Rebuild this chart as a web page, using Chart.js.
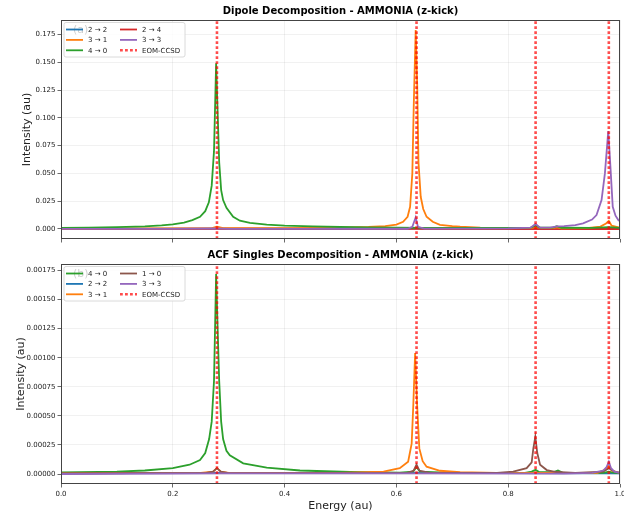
<!DOCTYPE html>
<html lang="en">
<head>
<meta charset="UTF-8">
<title>AMMONIA (z-kick) decompositions</title>
<script src="https://cdn.jsdelivr.net/npm/chart.js@4.4.1/dist/chart.umd.min.js"></script>
<style>
  body { margin: 0; background: #fff; }
  canvas { position: absolute; left: 0; }
  #dip { top: 0; }
  #acf { top: 250px; }
</style>
</head>
<body>
<canvas id="dip" width="624" height="250"></canvas>
<canvas id="acf" width="624" height="267"></canvas>
<script>
// EOM-CCSD excitation energies (au)
const eomEnergies = [0.279, 0.636, 0.849, 0.980];

const xTicks = [0, 0.2, 0.4, 0.6, 0.8, 1.0];
const dipYTicks = [0, 0.025, 0.05, 0.075, 0.1, 0.125, 0.15, 0.175];
const acfYTicks = [0, 0.00025, 0.0005, 0.00075, 0.001, 0.00125, 0.0015, 0.00175];
const dipYRange = [-0.009, 0.188];
const acfYRange = [-0.000086, 0.001806];

// (a) dipole decomposition, [energy, intensity]
const dip22 = [[0, 0.0001], [0.279, 0.0004], [0.5, 0.0001], [0.636, 0.0004], [1, 0.0001]];
const dip31 = [[0, 0.0004], [0.2, 0.0005], [0.27, 0.0008], [0.279, 0.002], [0.29, 0.0008], [0.4, 0.0008], [0.5, 0.0012],
  [0.55, 0.0018], [0.58, 0.0026], [0.6, 0.004], [0.612, 0.0065], [0.62, 0.011], [0.6245, 0.02], [0.6285, 0.05],
  [0.631, 0.11], [0.6345, 0.179], [0.6372, 0.13], [0.6395, 0.06], [0.6435, 0.029], [0.648, 0.018], [0.654, 0.011],
  [0.665, 0.0065], [0.678, 0.0038], [0.7, 0.0025], [0.714, 0.002], [0.75, 0.0013], [0.8, 0.001], [0.84, 0.0009],
  [0.849, 0.0016], [0.86, 0.0007], [0.88, 0.0008], [0.887, 0.0015], [0.895, 0.0006], [0.94, 0.0008], [0.965, 0.0022],
  [0.975, 0.005], [0.98, 0.0072], [0.985, 0.003], [1, 0.0012]];
const dip40 = [[0, 0.001], [0.05, 0.0012], [0.1, 0.0016], [0.15, 0.0024], [0.18, 0.0033], [0.2, 0.0042], [0.22, 0.0058],
  [0.235, 0.008], [0.2487, 0.011], [0.258, 0.016], [0.2645, 0.024], [0.2696, 0.039], [0.2737, 0.07], [0.2775, 0.149],
  [0.2805, 0.1], [0.283, 0.06], [0.2865, 0.035], [0.29, 0.026], [0.296, 0.019], [0.308, 0.011], [0.32, 0.0075],
  [0.338, 0.0055], [0.368, 0.004], [0.4, 0.0031], [0.45, 0.0023], [0.5, 0.0018], [0.55, 0.0014], [0.6, 0.0012],
  [0.65, 0.001], [0.7, 0.0009], [0.8, 0.0009], [0.84, 0.0012], [0.849, 0.003], [0.857, 0.0012], [0.88, 0.0012],
  [0.887, 0.0026], [0.895, 0.0011], [0.95, 0.001], [0.98, 0.0016], [1, 0.001]];
const dip24 = [[0, 0], [0.279, 0.0002], [0.636, 0.0002], [1, 0]];
const dip33 = [[0, 0.0001], [0.2, 0.0001], [0.279, 0.0006], [0.3, 0.0001], [0.62, 0.0002], [0.6285, 0.002],
  [0.6345, 0.0105], [0.6385, 0.002], [0.65, 0.0003], [0.8, 0.0005], [0.84, 0.0012], [0.849, 0.0045], [0.857, 0.0012],
  [0.875, 0.0012], [0.887, 0.0024], [0.9, 0.0025], [0.92, 0.0035], [0.934, 0.005], [0.95, 0.0085], [0.958, 0.0125],
  [0.967, 0.026], [0.973, 0.05], [0.979, 0.088], [0.983, 0.055], [0.987, 0.02], [0.992, 0.012], [0.997, 0.008], [1, 0.007]];

// (b) ACF singles decomposition
const acf40 = [[0, 0.000013], [0.1, 0.00002], [0.15, 0.00003], [0.2, 0.00005], [0.23, 0.00008], [0.2487, 0.00012],
  [0.258, 0.00018], [0.265, 0.0003], [0.2696, 0.00045], [0.2737, 0.0008], [0.2775, 0.00172], [0.2805, 0.0012],
  [0.283, 0.0008], [0.2865, 0.00045], [0.29, 0.0003], [0.296, 0.0002], [0.302, 0.00016], [0.326, 0.000092],
  [0.368, 0.000054], [0.4275, 0.00003], [0.517, 0.000017], [0.606, 0.000012], [0.63, 0.00002], [0.636, 0.00006],
  [0.642, 0.00002], [0.7, 0.00001], [0.83, 0.00001], [0.842, 0.00002], [0.849, 0.000036], [0.856, 0.000015],
  [0.88, 0.000015], [0.889, 0.00003], [0.897, 0.000012], [0.97, 0.00001], [0.98, 0.00002], [0.99, 0.00001], [1, 0.00001]];
const acf22 = [[0, 0.000005], [0.279, 0.00001], [0.636, 0.00001], [1, 0.000005]];
const acf31 = [[0, 0.000005], [0.25, 0.00001], [0.272, 0.00002], [0.279, 0.00005], [0.286, 0.00002], [0.3, 0.00001],
  [0.5, 0.00001], [0.577, 0.00002], [0.606, 0.00005], [0.621, 0.000106], [0.6273, 0.00026], [0.6303, 0.0006],
  [0.6335, 0.00104], [0.637, 0.0006], [0.641, 0.00022], [0.647, 0.00011], [0.654, 0.000063], [0.678, 0.000028],
  [0.714, 0.000015], [0.8, 0.000008], [0.849, 0.00001], [0.96, 0.00001], [0.975, 0.00004], [0.98, 0.00007],
  [0.985, 0.00003], [1, 0.00001]];
const acf10 = [[0, 0.000005], [0.26, 0.00001], [0.272, 0.00002], [0.279, 0.00005], [0.286, 0.00002], [0.3, 0.000008],
  [0.62, 0.00001], [0.631, 0.00003], [0.636, 0.00008], [0.641, 0.00003], [0.66, 0.00001], [0.78, 0.00001],
  [0.809, 0.00002], [0.833, 0.00005], [0.842, 0.0001], [0.845, 0.00022], [0.8485, 0.00032], [0.852, 0.00018],
  [0.857, 0.00008], [0.869, 0.000034], [0.886, 0.000017], [0.92, 0.00001], [0.97, 0.00002], [0.98, 0.00005],
  [0.99, 0.00002], [1, 0.00001]];
const acf33 = [[0, 0], [0.279, 0.000005], [0.636, 0.000005], [0.9, 0.000003], [0.95, 0.00001], [0.97, 0.00003],
  [0.976, 0.00006], [0.98, 0.000106], [0.984, 0.00005], [0.99, 0.00002], [1, 0.00001]];

const C = { blue: '#1f77b4', orange: '#ff7f0e', green: '#2ca02c', red: '#d62728', purple: '#9467bd', brown: '#8c564b' };
const eomColor = 'rgba(255,0,0,0.7)';

Chart.defaults.font.family = '"DejaVu Sans", sans-serif';
Chart.defaults.color = '#222';

function series(label, pts, color, order) {
  return { label, data: pts.map(p => ({ x: p[0], y: p[1] })), borderColor: color, backgroundColor: color,
    borderWidth: 1.8, pointRadius: 0, tension: 0, order };
}
function eomLines(range) {
  return eomEnergies.map(e => ({ label: 'EOM-CCSD', data: [{ x: e, y: range[0] }, { x: e, y: range[1] }],
    borderColor: eomColor, borderWidth: 2.6, borderDash: [2.8, 2.2], pointRadius: 0, order: 0 }));
}

// frame, title, letter and a matplotlib-like two column legend
const panelDeco = {
  id: 'panelDeco',
  afterDraw(chart, args, o) {
    const { ctx, chartArea: a } = chart;
    ctx.save();
    ctx.strokeStyle = '#444';
    ctx.lineWidth = 1;
    ctx.strokeRect(a.left + 0.5, a.top + 0.5, a.right - a.left - 1, a.bottom - a.top - 1);

    ctx.fillStyle = '#000';
    ctx.font = 'bold 10px "DejaVu Sans"';
    ctx.textAlign = 'center';
    ctx.textBaseline = 'middle';
    ctx.fillText(o.title, (a.left + a.right) / 2, a.top - 9);

    ctx.font = '11px "DejaVu Sans"';
    ctx.textAlign = 'left';
    ctx.fillText(o.letter, a.left + 12, a.top + 10);

    const bx = a.left + 3, by = a.top + 2.5, bw = 121, bh = 34.5;
    ctx.beginPath();
    ctx.roundRect(bx, by, bw, bh, 2);
    ctx.fillStyle = 'rgba(255,255,255,0.8)';
    ctx.fill();
    ctx.strokeStyle = '#d0d0d0';
    ctx.lineWidth = 0.8;
    ctx.stroke();

    ctx.font = '7px "DejaVu Sans"';
    o.items.forEach((it, i) => {
      const hx = a.left + 5 + Math.floor(i / 3) * 54;
      const hy = a.top + 9.5 + (i % 3) * 10.4;
      ctx.beginPath();
      ctx.moveTo(hx, hy);
      ctx.lineTo(hx + 17, hy);
      ctx.strokeStyle = it.color;
      ctx.lineWidth = it.dotted ? 2.6 : 1.8;
      ctx.setLineDash(it.dotted ? [2.8, 2.2] : []);
      ctx.stroke();
      ctx.setLineDash([]);
      ctx.fillStyle = '#222';
      ctx.fillText(it.label, hx + 22, hy + 0.5);
    });
    ctx.restore();
  }
};

function makeChart(id, datasets, o) {
  return new Chart(document.getElementById(id), {
    type: 'line',
    data: { datasets },
    plugins: [panelDeco],
    options: {
      responsive: false,
      animation: false,
      layout: { padding: { top: o.padTop, right: 4, left: 0, bottom: 0 } },
      plugins: { legend: { display: false }, tooltip: { enabled: false }, panelDeco: o.deco },
      scales: {
        x: {
          type: 'linear', min: 0, max: 1,
          afterBuildTicks: s => { s.ticks = xTicks.map(v => ({ value: v })); },
          afterFit: s => { s.height = o.xHeight; s.paddingLeft = 0; s.paddingRight = 0; },
          grid: { color: 'rgba(0,0,0,0.07)', lineWidth: 0.8, tickColor: '#444', tickLength: 3.5, tickWidth: 0.8 },
          border: { display: false },
          ticks: { display: o.xLabels, font: { size: 7 }, padding: 2, maxRotation: 0, callback: v => v.toFixed(1) },
          title: { display: o.xLabels, text: 'Energy (au)', font: { size: 11 }, padding: { top: 0, bottom: 4 } }
        },
        y: {
          min: o.yRange[0], max: o.yRange[1],
          afterBuildTicks: s => { s.ticks = o.yTicks.map(v => ({ value: v })); },
          afterFit: s => { s.width = 61; s.paddingTop = 0; s.paddingBottom = 0; },
          grid: { color: 'rgba(0,0,0,0.07)', lineWidth: 0.8, tickColor: '#444', tickLength: 3.5, tickWidth: 0.8 },
          border: { display: false },
          ticks: { font: { size: 7 }, padding: 2, callback: v => v.toFixed(o.digits) },
          title: { display: true, text: 'Intensity (au)', font: { size: 11 }, padding: { top: o.yTitlePad, bottom: 0 } }
        }
      }
    }
  });
}

// lower order = drawn on top; near-zero components sit underneath
makeChart('dip', [
  series('2 → 2', dip22, C.blue, 12),
  series('3 → 1', dip31, C.orange, 9),
  series('4 → 0', dip40, C.green, 8),
  series('2 → 4', dip24, C.red, 11),
  series('3 → 3', dip33, C.purple, 6),
  ...eomLines(dipYRange)
], {
  padTop: 20, xHeight: 11, xLabels: false, yRange: dipYRange, yTicks: dipYTicks, digits: 3, yTitlePad: 21,
  deco: {
    title: 'Dipole Decomposition - AMMONIA (z-kick)', letter: '(a)',
    items: [
      { label: '2 → 2', color: C.blue }, { label: '3 → 1', color: C.orange }, { label: '4 → 0', color: C.green },
      { label: '2 → 4', color: C.red }, { label: '3 → 3', color: C.purple }, { label: 'EOM-CCSD', color: eomColor, dotted: true }
    ]
  }
});

makeChart('acf', [
  series('4 → 0', acf40, C.green, 10),
  series('2 → 2', acf22, C.blue, 12),
  series('3 → 1', acf31, C.orange, 8),
  series('1 → 0', acf10, C.brown, 7),
  series('3 → 3', acf33, C.purple, 6),
  ...eomLines(acfYRange)
], {
  padTop: 14, xHeight: 33, xLabels: true, yRange: acfYRange, yTicks: acfYTicks, digits: 5, yTitlePad: 15,
  deco: {
    title: 'ACF Singles Decomposition - AMMONIA (z-kick)', letter: '(b)',
    items: [
      { label: '4 → 0', color: C.green }, { label: '2 → 2', color: C.blue }, { label: '3 → 1', color: C.orange },
      { label: '1 → 0', color: C.brown }, { label: '3 → 3', color: C.purple }, { label: 'EOM-CCSD', color: eomColor, dotted: true }
    ]
  }
});
</script>
</body>
</html>
